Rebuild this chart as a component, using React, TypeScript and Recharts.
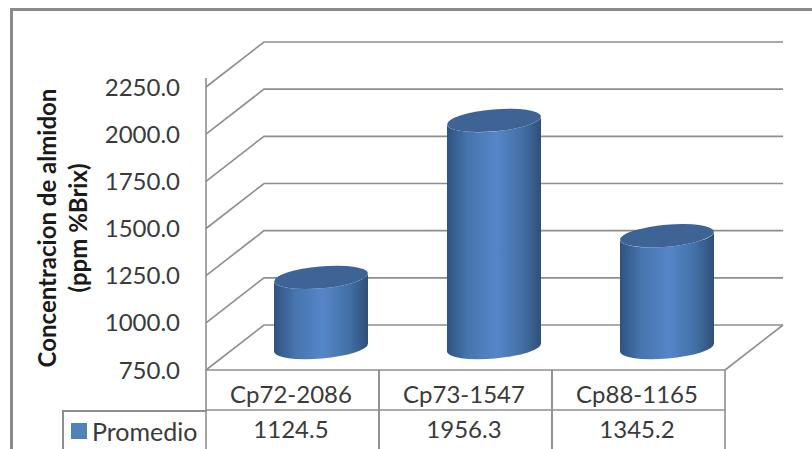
import React from "react";
import { BarChart, Bar, XAxis, YAxis, CartesianGrid, Legend, Label } from "recharts";

const categories = ["Cp72-2086", "Cp73-1547", "Cp88-1165"];
const promedio = [1124.5, 1956.3, 1345.2];
const valueTicks = [750, 1000, 1250, 1500, 1750, 2000, 2250];
const seriesName = "Promedio";
const titleLines = ["Concentracion de almidon", "(ppm %Brix)"];

const rows = categories.map((name, i) => ({ name, promedio: promedio[i] }));

const FONT = "Lato, Carlito, sans-serif";
const TEXT = "#3a3a3a";
const LINE = "#8e8e8e";
const SWATCH = "#4f81bd";

// Oblique projection of the depth axis of the fake 3D plot
const DEPTH_X = 58;
const DEPTH_Y = 45;
const PLOT_TOP = 87;
const PLOT_LEFT = 206;
const PLOT_BOTTOM = 370;
const CELL_W = 173;
const RY = 11;
const TILT = -5;

// One gridline: up the side wall, then along the back wall
function WallLine(props: any) {
  const { x1, x2, y1, y2 } = props;
  const isTop = Math.abs(y1 - PLOT_TOP) < 1;
  const isFloor = Math.abs(y1 - PLOT_BOTTOM) < 1;
  return (
    <g stroke={LINE} strokeWidth={1.6} fill="none">
      <polyline points={`${x1},${y1} ${x1 + DEPTH_X},${y1 - DEPTH_Y} ${x2 + DEPTH_X},${y2 - DEPTH_Y}`} />
      {isTop && <line x1={x1} y1={PLOT_TOP - 9} x2={x1} y2={PLOT_BOTTOM} />}
      {isFloor && <line x1={x2 + DEPTH_X} y1={y2 - DEPTH_Y} x2={x2} y2={y2} />}
    </g>
  );
}

// Cylinder placed roughly halfway along the depth axis
function Cylinder(props: any) {
  const { x, y, width, height } = props;
  const rx = width / 2;
  const cx = x + rx + DEPTH_X / 2 - 1;
  const topY = y - DEPTH_Y / 2 + 0.5;
  const baseY = y + height - DEPTH_Y / 2;
  const lift = rx * Math.sin((-TILT * Math.PI) / 180);
  const left = cx - rx;
  const right = cx + rx;
  const body =
    `M${left},${topY + lift} L${left},${baseY + lift} ` +
    `A${rx},${RY} ${TILT} 0 0 ${right},${baseY - lift} ` +
    `L${right},${topY - lift} ` +
    `A${rx},${RY} ${TILT} 0 1 ${left},${topY + lift} Z`;
  return (
    <g>
      <path d={body} fill="url(#cylinderSide)" />
      <ellipse
        cx={cx}
        cy={topY}
        rx={rx}
        ry={RY}
        fill="#3d6494"
        transform={`rotate(${TILT} ${cx} ${topY})`}
      />
    </g>
  );
}

// Category name, value row and cell borders of the data table
function TableColumn(props: any) {
  const { x, y, payload, index } = props;
  const half = CELL_W / 2;
  return (
    <g>
      <g stroke={LINE} strokeWidth={1.6}>
        <line x1={x - half} y1={y} x2={x - half} y2={449} />
        <line x1={x + half} y1={y} x2={x + half} y2={449} />
        <line x1={x - half} y1={y + 40} x2={x + half} y2={y + 40} />
      </g>
      <text x={x - 1.5} y={y + 33} textAnchor="middle" fontFamily={FONT} fontSize={24} fill={TEXT}>
        {payload.value}
      </text>
      <text x={x - 1.5} y={y + 68} textAnchor="middle" fontFamily={FONT} fontSize={24} fill={TEXT}>
        {promedio[index].toFixed(1)}
      </text>
    </g>
  );
}

function AxisTitle(props: any) {
  const cy = 228;
  return (
    <g fontFamily={FONT} fontSize={24} fontWeight={700} fill="#1a1a1a" textAnchor="middle">
      <text transform={`translate(56 ${cy}) rotate(-90)`}>{titleLines[0]}</text>
      <text transform={`translate(87 ${cy}) rotate(-90)`}>{titleLines[1]}</text>
    </g>
  );
}

function LegendCell() {
  return (
    <div
      style={{
        boxSizing: "border-box",
        width: 145,
        height: 39,
        borderTop: `2px solid ${LINE}`,
        borderLeft: `2px solid ${LINE}`,
        display: "flex",
        alignItems: "center",
        paddingLeft: 7,
        fontFamily: FONT,
        fontSize: 25,
        color: TEXT,
      }}
    >
      <span style={{ width: 16, height: 16, background: SWATCH, marginRight: 5, flex: "none" }} />
      {seriesName}
    </div>
  );
}

export default function App() {
  return (
    <div style={{ position: "absolute", left: 0, top: 0, width: 812, height: 449, overflow: "hidden", background: "#fff" }}>
      <div
        style={{
          position: "absolute",
          left: 10,
          top: 8,
          right: -10,
          bottom: -10,
          borderTop: "3px solid #8a8a8a",
          borderLeft: "3px solid #8a8a8a",
        }}
      />
      <div style={{ position: "absolute", left: 0, top: 0 }}>
        <BarChart
          width={812}
          height={449}
          data={rows}
          margin={{ top: PLOT_TOP, right: 87, bottom: 0, left: 0 }}
          style={{ background: "transparent" }}
        >
          <defs>
            <linearGradient id="cylinderSide" x1="0" y1="0" x2="1" y2="0">
              <stop offset="0" stopColor="#2f5380" />
              <stop offset="0.22" stopColor="#4674ad" />
              <stop offset="0.52" stopColor="#5586c8" />
              <stop offset="0.8" stopColor="#4270a6" />
              <stop offset="1" stopColor="#2f4f78" />
            </linearGradient>
          </defs>
          <CartesianGrid vertical={false} horizontal={(p: any) => <WallLine {...p} />} />
          <XAxis
            dataKey="name"
            height={79}
            interval={0}
            tickSize={0}
            tickMargin={0}
            tickLine={false}
            axisLine={{ stroke: LINE, strokeWidth: 1.6 }}
            tick={(p: any) => <TableColumn {...p} />}
          />
          <YAxis
            width={PLOT_LEFT}
            domain={[750, 2250]}
            ticks={valueTicks}
            interval={0}
            tickLine={false}
            tickSize={0}
            tickMargin={26}
            axisLine={false}
            tick={{ fill: TEXT, fontFamily: FONT, fontSize: 24 }}
            tickFormatter={(v: number) => v.toFixed(1)}
          >
            <Label content={(p: any) => <AxisTitle {...p} />} />
          </YAxis>
          <Legend
            layout="horizontal"
            verticalAlign="middle"
            align="center"
            wrapperStyle={{ left: 62, top: 410, width: 145, height: 39, bottom: "auto", right: "auto" }}
            content={() => <LegendCell />}
          />
          <Bar
            dataKey="promedio"
            name={seriesName}
            fill={SWATCH}
            barSize={94}
            isAnimationActive={false}
            shape={(p: any) => <Cylinder {...p} />}
          />
        </BarChart>
      </div>
    </div>
  );
}
